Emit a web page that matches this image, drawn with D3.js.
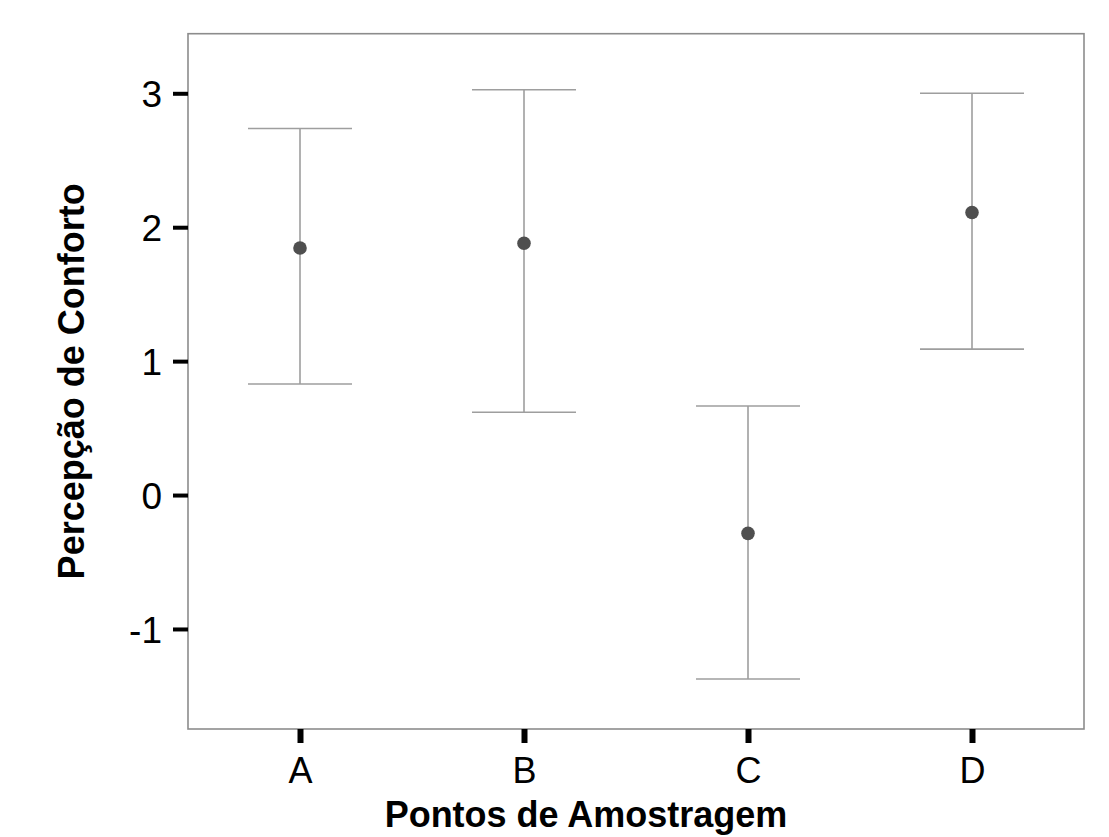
<!DOCTYPE html>
<html>
<head>
<meta charset="utf-8">
<script src="https://cdn.jsdelivr.net/npm/d3@7"></script>
<style>
  html, body { margin: 0; padding: 0; background: #fff; }
  svg { display: block; }
  text { font-family: "Liberation Sans", Arial, sans-serif; }
</style>
</head>
<body>
<svg id="chart" width="1109" height="837"></svg>
<script>
// Data
const categories = ["A", "B", "C", "D"];
const means = [1.845, 1.88, -0.286, 2.11];
const upper = [2.737, 3.027, 0.665, 3.0];
const lower = [0.829, 0.618, -1.374, 1.09];
const yTicks = [-1, 0, 1, 2, 3];
const yTickLabels = ["-1", "0", "1", "2", "3"];
const xTitle = "Pontos de Amostragem";
const yTitle = "Percepção de Conforto";

const svg = d3.select("#chart");
const plot = { left: 188, right: 1084, top: 33.7, bottom: 729 };

const x = d3.scalePoint().domain(categories).range([plot.left, plot.right]).padding(0.5);
const y = d3.scaleLinear().domain([-1.747, 3.445]).range([plot.bottom, plot.top]);

// frame
svg.append("rect")
  .attr("x", plot.left).attr("y", plot.top)
  .attr("width", plot.right - plot.left).attr("height", plot.bottom - plot.top)
  .attr("fill", "none").attr("stroke", "#8c8c8c").attr("stroke-width", 1.6);

// y axis
const yAxis = svg.append("g")
  .attr("transform", `translate(${plot.left},0)`)
  .call(d3.axisLeft(y).tickValues(yTicks)
    .tickFormat(d => yTickLabels[yTicks.indexOf(d)])
    .tickSizeOuter(0).tickSize(15).tickPadding(11));
yAxis.select(".domain").remove();
yAxis.selectAll(".tick line").attr("stroke", "#000").attr("stroke-width", 4);
yAxis.selectAll(".tick text")
  .attr("font-size", 37).attr("fill", "#000")
  .attr("font-family", "'Liberation Sans', Arial, sans-serif")
  .attr("dy", "0.36em");

// x axis
const xAxis = svg.append("g")
  .attr("transform", `translate(0,${plot.bottom})`)
  .call(d3.axisBottom(x).tickSizeOuter(0).tickSize(14).tickPadding(14));
xAxis.select(".domain").remove();
xAxis.selectAll(".tick line").attr("stroke", "#000").attr("stroke-width", 6);
xAxis.selectAll(".tick text")
  .attr("font-size", 36).attr("fill", "#000")
  .attr("font-family", "'Liberation Sans', Arial, sans-serif");

// error bars
const data = categories.map((c, i) => ({ c, m: means[i], u: upper[i], l: lower[i] }));
const capHalf = 52;
const eb = svg.append("g").attr("stroke", "#9e9e9e").attr("stroke-width", 1.6);
eb.selectAll(".v").data(data).join("line")
  .attr("x1", d => x(d.c)).attr("x2", d => x(d.c))
  .attr("y1", d => y(d.u)).attr("y2", d => y(d.l));
eb.selectAll(".cu").data(data).join("line")
  .attr("x1", d => x(d.c) - capHalf).attr("x2", d => x(d.c) + capHalf)
  .attr("y1", d => y(d.u)).attr("y2", d => y(d.u));
eb.selectAll(".cl").data(data).join("line")
  .attr("x1", d => x(d.c) - capHalf).attr("x2", d => x(d.c) + capHalf)
  .attr("y1", d => y(d.l)).attr("y2", d => y(d.l));

// points
svg.append("g").selectAll("circle").data(data).join("circle")
  .attr("cx", d => x(d.c)).attr("cy", d => y(d.m))
  .attr("r", 6.8).attr("fill", "#4f4f4f");

// titles
svg.append("text")
  .attr("x", 586).attr("y", 827)
  .attr("text-anchor", "middle")
  .attr("font-size", 36).attr("font-weight", "bold").attr("fill", "#000")
  .text(xTitle);

svg.append("text")
  .attr("transform", `translate(84,${(plot.top + plot.bottom) / 2}) rotate(-90)`)
  .attr("text-anchor", "middle")
  .attr("font-size", 36).attr("font-weight", "bold").attr("fill", "#000")
  .text(yTitle);
</script>
</body>
</html>
